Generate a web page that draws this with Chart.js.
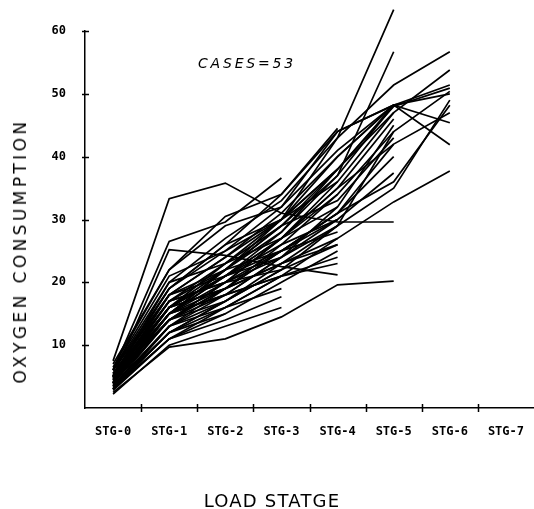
<!DOCTYPE html>
<html>
<head>
<meta charset="utf-8">
<script src="https://cdn.jsdelivr.net/npm/chart.js@4/dist/chart.umd.min.js"></script>
<style>
  html, body { margin: 0; padding: 0; background: #fff; }
  #wrap { position: relative; width: 534px; height: 509px; overflow: hidden; }
  #c { position: absolute; left: 0; top: 0; }
  .lbl { position: absolute; color: #000; font-family: "DejaVu Sans", sans-serif; font-weight: 400; white-space: nowrap; }
  #ytitle { left: 20px; top: 251px; font-size: 17px; letter-spacing: 3.4px; transform: translate(-50%, -50%) rotate(-90deg); }
  #xtitle { left: 272px; top: 500px; font-size: 18px; letter-spacing: 1.2px; transform: translate(-50%, -50%); }
  #cases { left: 247px; top: 63px; font-size: 14px; font-style: italic; letter-spacing: 2.8px; transform: translate(-50%, -50%); }
</style>
</head>
<body>
<div id="wrap">
  <canvas id="c" width="534" height="509"></canvas>
  <div class="lbl" id="ytitle">OXYGEN CONSUMPTION</div>
  <div class="lbl" id="xtitle">LOAD STATGE</div>
  <div class="lbl" id="cases">CASES=53</div>
</div>
<script>
// Load stages on the horizontal axis
const stages = ["STG-0", "STG-1", "STG-2", "STG-3", "STG-4", "STG-5", "STG-6", "STG-7"];

// Oxygen consumption axis ticks
const yTicks = [10, 20, 30, 40, 50, 60];

// One profile per case; a case stops at the last stage it reached
const case01 = [5.0, 16, 22, 30, 43, 51.4, 56.7];
const case02 = [4.0, 14, 20, 27, 36, 47, 53.8];
const case03 = [6.0, 18, 24, 31, 40, 48.2, 51.4];
const case04 = [4.5, 15, 21, 28, 38, 48, 50.9];
const case05 = [3.5, 13, 19, 26, 34, 44, 50.4];
const case06 = [5.5, 17, 23, 29, 37, 48.2, 50.0];
const case07 = [3.0, 12, 17, 23, 29, 35, 49.0];
const case08 = [4.0, 14, 19, 25, 31, 36, 48.2];
const case09 = [5.0, 16, 21, 27, 35, 42, 47.0];
const case10 = [4.8, 15, 22, 29, 38, 48.2, 45.4];
const case11 = [5.2, 19, 25, 32, 41, 48.2, 41.9];
const case12 = [3.2, 11, 16, 21, 27, 32.8, 37.7];
const case13 = [7.5, 33.3, 35.8, 31, 29.6, 29.6];
const case14 = [2.5, 9.7, 11, 14.5, 19.6, 20.2];
const case15 = [5.0, 20, 27, 33, 43, 63.4];
const case16 = [4.0, 15, 22, 28, 37, 56.7];
const case17 = [6.0, 19, 26, 34, 44, 48.2];
const case18 = [4.0, 16, 23, 30, 38, 47];
const case19 = [5.0, 14, 20, 27, 35, 46];
const case20 = [3.0, 13, 18, 24, 32, 45];
const case21 = [4.5, 17, 22, 29, 33, 43];
const case22 = [3.8, 15, 19, 25, 31, 40];
const case23 = [5.5, 16, 21, 26, 30, 37.4];
const case24 = [3.5, 12, 17, 22, 29, 44];
const case25 = [4.2, 18, 24, 30, 40, 48.2];
const case26 = [6.5, 22, 29, 32, 44, 48.2];
const case27 = [5.0, 15, 20, 25, 31, 42];
const case28 = [5.0, 25.2, 24.3, 22.5, 21.2];
const case29 = [6.0, 20, 23, 27, 34];
const case30 = [4.0, 16, 21, 25, 28];
const case31 = [3.0, 13, 17, 22, 26];
const case32 = [5.5, 18, 22, 25, 30];
const case33 = [4.0, 15, 18, 21, 24];
const case34 = [3.5, 14, 19, 23, 27];
const case35 = [7.0, 22, 30.5, 34, 44.5];
const case36 = [4.6, 17, 20, 24, 29];
const case37 = [2.8, 11, 15, 20, 25];
const case38 = [5.0, 19, 26, 30, 36];
const case39 = [4.0, 15, 21, 27, 32];
const case40 = [3.3, 12, 16, 21, 23];
const case41 = [6.2, 21, 25, 30, 38];
const case42 = [4.4, 16, 19, 23, 26];
const case43 = [5.0, 14, 18, 24, 30];
const case44 = [6.0, 26.5, 29.6, 36.6];
const case45 = [3.0, 11, 14, 17.7];
const case46 = [4.0, 15, 18, 21];
const case47 = [5.0, 17, 20, 22];
const case48 = [3.6, 13, 16, 19];
const case49 = [4.8, 18, 21, 24];
const case50 = [2.2, 10, 13, 16];
const case51 = [4.0, 14, 17];
const case52 = [5.0, 16, 19];
const case53 = [3.0, 12, 15];

const cases = [
  case01, case02, case03, case04, case05, case06, case07, case08, case09, case10,
  case11, case12, case13, case14, case15, case16, case17, case18, case19, case20,
  case21, case22, case23, case24, case25, case26, case27, case28, case29, case30,
  case31, case32, case33, case34, case35, case36, case37, case38, case39, case40,
  case41, case42, case43, case44, case45, case46, case47, case48, case49, case50,
  case51, case52, case53
];

// Short tick marks that cross both axes, like a pen plotter draws them
const crossTicks = {
  id: 'crossTicks',
  afterDraw(chart) {
    const xs = chart.scales.x, ys = chart.scales.y, ctx = chart.ctx;
    ctx.save();
    ctx.strokeStyle = '#000';
    ctx.lineWidth = 1.5;
    ctx.beginPath();
    for (let i = 1; i < stages.length; i++) {
      const px = Math.round((xs.getPixelForValue(i - 1) + xs.getPixelForValue(i)) / 2) + 0.5;
      ctx.moveTo(px, ys.bottom - 4);
      ctx.lineTo(px, ys.bottom + 4);
    }
    for (const v of yTicks) {
      const py = Math.round(ys.getPixelForValue(v)) + 0.5;
      ctx.moveTo(xs.left - 3, py);
      ctx.lineTo(xs.left + 4, py);
    }
    ctx.stroke();
    ctx.restore();
  }
};

new Chart(document.getElementById('c'), {
  type: 'line',
  data: {
    labels: stages,
    datasets: cases.map((vals, i) => ({
      label: 'Case ' + (i + 1),
      data: vals,
      borderColor: '#000',
      borderWidth: 1.7,
      pointRadius: 0,
      tension: 0,
      fill: false,
      clip: false
    }))
  },
  options: {
    responsive: false,
    animation: false,
    events: [],
    layout: { padding: { top: 31, right: 0, left: 0, bottom: 0 } },
    plugins: { legend: { display: false }, tooltip: { enabled: false } },
    scales: {
      x: {
        type: 'category',
        offset: true,
        grid: { display: false, offset: true },
        border: { display: true, color: '#000', width: 1.5 },
        ticks: {
          color: '#000',
          padding: 9,
          maxRotation: 0,
          font: { family: '"DejaVu Sans Mono", monospace', size: 12, weight: 'bold' }
        },
        afterFit(s) { s.height = 101; }
      },
      y: {
        min: 0,
        max: 60,
        grid: { display: false },
        border: { display: true, color: '#000', width: 1.5 },
        ticks: {
          stepSize: 10,
          color: '#000',
          padding: 11,
          callback: v => (yTicks.includes(v) ? String(v) : ''),
          font: { family: '"DejaVu Sans Mono", monospace', size: 12, weight: 'bold' }
        },
        afterFit(s) { s.width = 85; }
      }
    }
  },
  plugins: [crossTicks]
});
</script>
</body>
</html>
